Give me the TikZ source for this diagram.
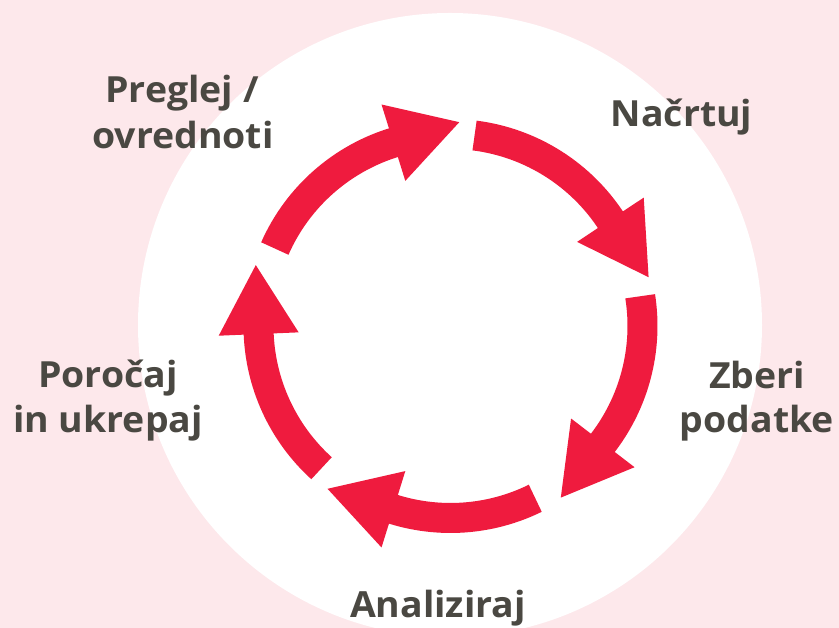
\documentclass[tikz,border=0pt]{standalone}
\usepackage{fontspec}
\setmainfont[FakeStretch=1.04]{Open Sans}
\usetikzlibrary{calc}
\definecolor{bgpink}{RGB}{253,232,235}
\definecolor{cycred}{RGB}{239,27,62}
\definecolor{labgray}{RGB}{74,72,66}
\tikzset{
  lab/.style={font=\bfseries\fontsize{36}{42}\selectfont, text=labgray, inner sep=0pt, anchor=base},
  shaft/.style={draw=cycred, line width=30pt, line cap=butt},
  headtri/.style={fill=cycred, draw=none}
}
\newcommand{\cycarrow}[2]{%
  \draw[shaft] ($(C)+(#1:192)$) arc[start angle=#1, end angle=#2-1, radius=192];
  \fill[headtri] ($(C)+(#2:232)$) -- ($(C)+(#2:152)$) -- ($(C)+(#2:192)+(#2-90:69)$) -- cycle;
}
\begin{document}
\begin{tikzpicture}[x=1pt,y=1pt]
\useasboundingbox (0,0) rectangle (839,628);
\fill[bgpink] (0,0) rectangle (839,628);
\fill[white] (450,303) circle (312);
\coordinate (C) at (450.5,302);
\cycarrow{82.8}{33.6}
\cycarrow{8.9}{-37.5}
\cycarrow{-63.8}{-107.3}
\cycarrow{-132.2}{-177.6}
\cycarrow{156.2}{107.3}
\node[lab] (l1a) at (182,525) {Preglej /};
\node[lab] (l1b) at (183,479) {ovrednoti};
\node[lab] (l2) at (681.5,501) {Načrtuj};
\node[lab] (l3a) at (757,239) {Zberi};
\node[lab] (l3b) at (757,195) {podatke};
\node[lab] (l4a) at (108,240) {Poročaj};
\node[lab] (l4b) at (108,195) {in ukrepaj};
\node[lab] (l5) at (438,10) {Analiziraj};
\end{tikzpicture}
\end{document}
